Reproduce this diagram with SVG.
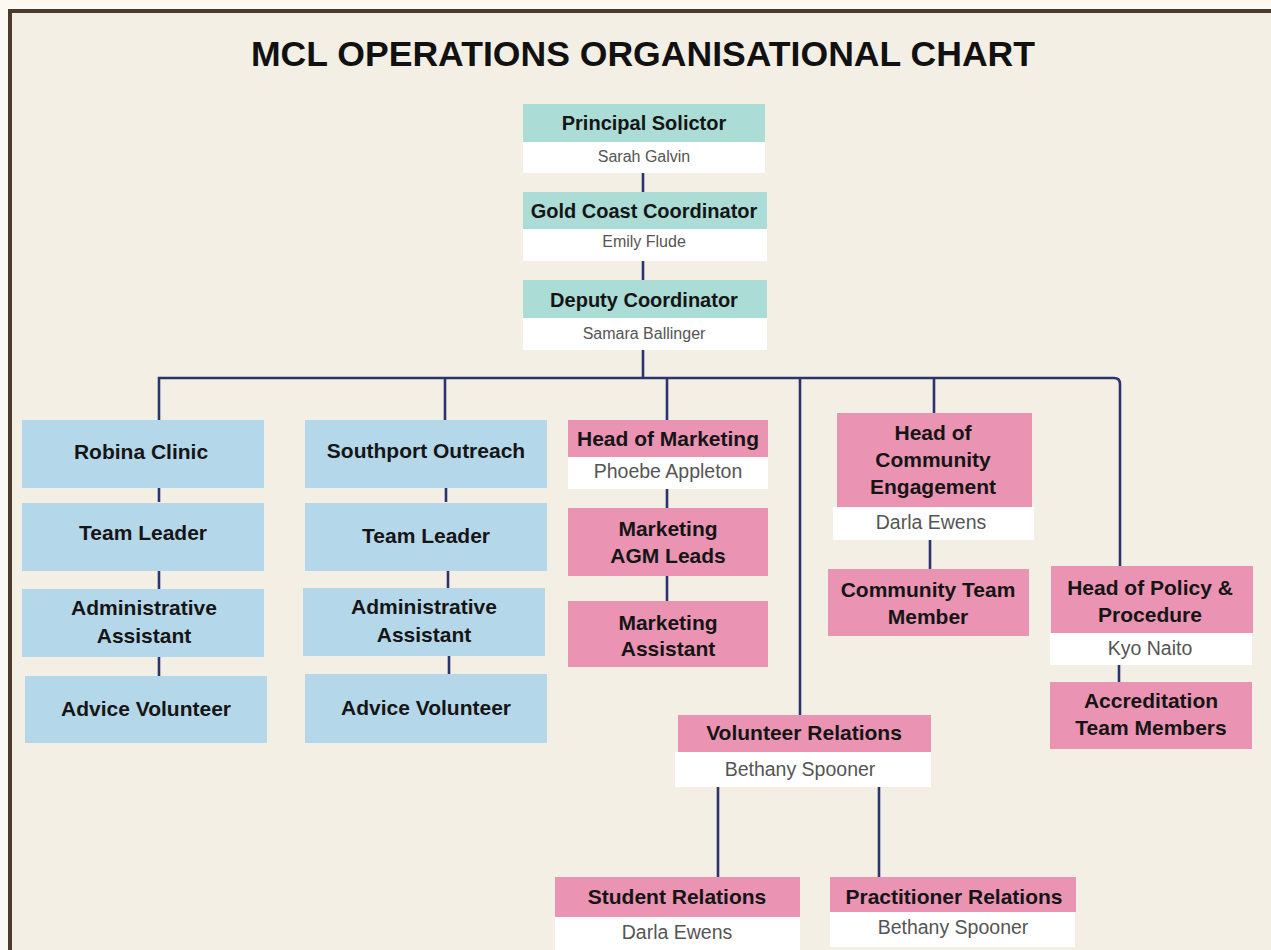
<svg xmlns="http://www.w3.org/2000/svg" width="1271" height="950" viewBox="0 0 1271 950">
<style>
.t{font-family:"Liberation Sans",Arial,sans-serif;font-weight:bold;font-size:21px;fill:#151515;text-anchor:middle}
.tt{font-size:20px}
.n{font-family:"Liberation Sans",Arial,sans-serif;font-size:19.5px;fill:#555;text-anchor:middle}
.ns{font-size:16px}
.teal{fill:#abdcd6}
.blue{fill:#b5d7ea}
.pink{fill:#ea93b3}
.white{fill:#ffffff}
.c{stroke:#2c3470;stroke-width:2.6;fill:none}
</style>
<rect x="0" y="0" width="1271" height="950" fill="#fdf8f1"/>
<rect x="10" y="11" width="1300" height="980" fill="#f3efe5" stroke="#4a3b2c" stroke-width="4"/>
<text x="643" y="66" style="font-family:'Liberation Sans',Arial,sans-serif;font-weight:bold;font-size:35.6px;fill:#111;text-anchor:middle">MCL OPERATIONS ORGANISATIONAL CHART</text>

<g id="connectors" class="c">
<path d="M643 172 V193 M643 260 V281 M643 350 V378"/>
<path d="M159 420 V378 H1114 Q1120 378 1120 384 V566"/>
<path d="M445 378 V420 M667 378 V420 M800 378 V715 M934 378 V413"/>
<path d="M159 488 V502 M159 570 V589 M159 656 V676"/>
<path d="M446 488 V502 M448 570 V588 M449 656 V674"/>
<path d="M667 489 V508 M667 576 V601"/>
<path d="M930 540 V569"/>
<path d="M1119 665 V682"/>
<path d="M718 787 V877 M879 787 V877"/>
</g>

<g id="principal-solicitor">
<rect class="teal" x="523" y="104" width="242" height="38"/>
<rect class="white" x="523" y="142" width="242" height="31"/>
<text class="t tt" x="644" y="129.5">Principal Solictor</text>
<text class="n ns" x="644" y="161.5">Sarah Galvin</text>
</g>
<g id="gold-coast-coordinator">
<rect class="teal" x="523" y="192" width="244" height="37"/>
<rect class="white" x="523" y="229" width="244" height="32"/>
<text class="t tt" x="644" y="218">Gold Coast Coordinator</text>
<text class="n ns" x="644" y="247">Emily Flude</text>
</g>
<g id="deputy-coordinator">
<rect class="teal" x="523" y="280" width="244" height="38"/>
<rect class="white" x="523" y="318" width="244" height="32"/>
<text class="t tt" x="644" y="306.5">Deputy Coordinator</text>
<text class="n ns" x="644" y="338.5">Samara Ballinger</text>
</g>

<g id="robina-clinic">
<rect class="blue" x="22" y="420" width="242" height="68"/>
<text class="t" x="141" y="459">Robina Clinic</text>
</g>
<g id="team-leader-1">
<rect class="blue" x="22" y="503" width="242" height="68"/>
<text class="t" x="143" y="540">Team Leader</text>
</g>
<g id="admin-assistant-1">
<rect class="blue" x="22" y="589" width="242" height="68"/>
<text class="t" x="144" y="615">Administrative</text>
<text class="t" x="144" y="642.5">Assistant</text>
</g>
<g id="advice-volunteer-1">
<rect class="blue" x="25" y="676" width="242" height="67"/>
<text class="t" x="146" y="716">Advice Volunteer</text>
</g>

<g id="southport-outreach">
<rect class="blue" x="305" y="420" width="242" height="68"/>
<text class="t" x="426" y="458">Southport Outreach</text>
</g>
<g id="team-leader-2">
<rect class="blue" x="305" y="503" width="242" height="68"/>
<text class="t" x="426" y="543">Team Leader</text>
</g>
<g id="admin-assistant-2">
<rect class="blue" x="303" y="588" width="242" height="68"/>
<text class="t" x="424" y="614">Administrative</text>
<text class="t" x="424" y="641.5">Assistant</text>
</g>
<g id="advice-volunteer-2">
<rect class="blue" x="305" y="674" width="242" height="69"/>
<text class="t" x="426" y="715">Advice Volunteer</text>
</g>

<g id="head-of-marketing">
<rect class="pink" x="568" y="420" width="200" height="37"/>
<rect class="white" x="568" y="457" width="200" height="32"/>
<text class="t" x="668" y="446">Head of Marketing</text>
<text class="n" x="668" y="478">Phoebe Appleton</text>
</g>
<g id="marketing-agm-leads">
<rect class="pink" x="568" y="508" width="200" height="68"/>
<text class="t" x="668" y="536">Marketing</text>
<text class="t" x="668" y="562.5">AGM Leads</text>
</g>
<g id="marketing-assistant">
<rect class="pink" x="568" y="601" width="200" height="66"/>
<text class="t" x="668" y="629.5">Marketing</text>
<text class="t" x="668" y="656">Assistant</text>
</g>

<g id="head-of-community-engagement">
<rect class="pink" x="837" y="413" width="195" height="94"/>
<rect class="white" x="833" y="507" width="201" height="33"/>
<text class="t" x="933" y="440">Head of</text>
<text class="t" x="933" y="467">Community</text>
<text class="t" x="933" y="494">Engagement</text>
<text class="n" x="931" y="529">Darla Ewens</text>
</g>
<g id="community-team-member">
<rect class="pink" x="828" y="569" width="201" height="67"/>
<text class="t" x="928" y="597">Community Team</text>
<text class="t" x="928" y="624">Member</text>
</g>

<g id="head-of-policy">
<rect class="pink" x="1051" y="566" width="202" height="67"/>
<rect class="white" x="1050" y="633" width="202" height="32"/>
<text class="t" x="1150" y="595">Head of Policy &amp;</text>
<text class="t" x="1150" y="621.5">Procedure</text>
<text class="n" x="1150" y="655">Kyo Naito</text>
</g>
<g id="accreditation-team-members">
<rect class="pink" x="1050" y="682" width="202" height="67"/>
<text class="t" x="1151" y="708">Accreditation</text>
<text class="t" x="1151" y="735">Team Members</text>
</g>

<g id="volunteer-relations">
<rect class="pink" x="678" y="715" width="253" height="37"/>
<rect class="white" x="675" y="752" width="256" height="35"/>
<text class="t" x="804" y="740">Volunteer Relations</text>
<text class="n" x="800" y="776">Bethany Spooner</text>
</g>
<g id="student-relations">
<rect class="pink" x="555" y="877" width="245" height="40"/>
<rect class="white" x="555" y="917" width="245" height="40"/>
<text class="t" x="677" y="904">Student Relations</text>
<text class="n" x="677" y="939">Darla Ewens</text>
</g>
<g id="practitioner-relations">
<rect class="pink" x="830" y="877" width="246" height="35"/>
<rect class="white" x="830" y="912" width="245" height="35"/>
<text class="t" x="954" y="904">Practitioner Relations</text>
<text class="n" x="953" y="934">Bethany Spooner</text>
</g>
</svg>
